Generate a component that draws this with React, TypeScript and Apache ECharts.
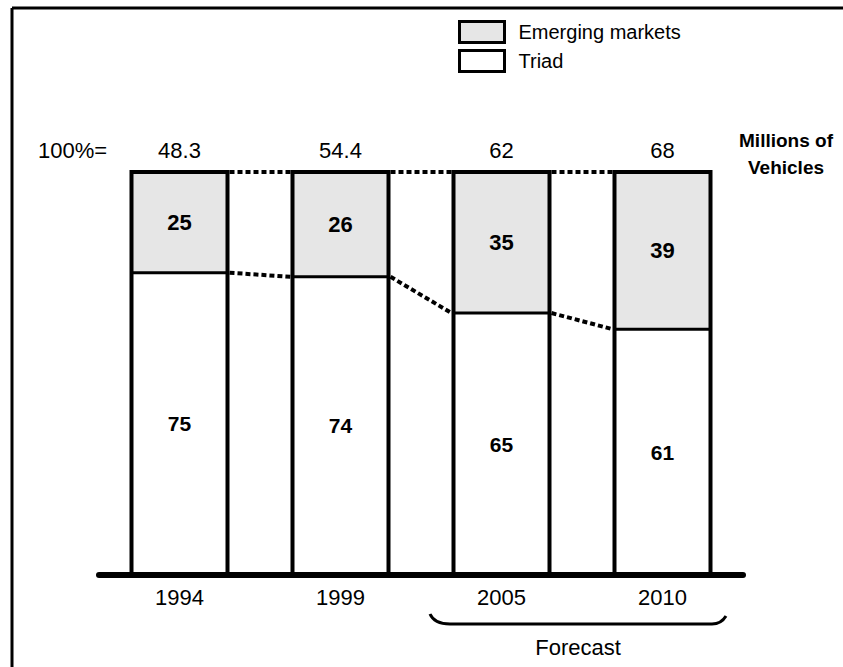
import React, { useEffect, useRef } from "react";
import * as echarts from "echarts";

const years = ["1994", "1999", "2005", "2010"];
const totals = ["48.3", "54.4", "62", "68"];
const triad = [75, 74, 65, 61];
const emerging = [25, 26, 35, 39];

const FONT = "'Liberation Sans', Arial, sans-serif";
const BAR_W = 96;

echarts.graphic.registerShape(
  "brace",
  echarts.graphic.extendPath(
    "M0 0 C3 7 9 10 20 10 L282 10 C289 10 293 7 296 2",
    {}
  )
);

export default function App() {
  const ref = useRef<HTMLDivElement>(null);
  useEffect(() => {
    if (!ref.current) return;
    const chart = echarts.init(ref.current, null, { renderer: "svg" });
    const links = triad.slice(0, -1).map((v, i) => [i, v, triad[i + 1]]);
    const outlines = triad.map((v, i) => [i, v]);
    const dash = { stroke: "#000", lineWidth: 4, lineDash: [5, 3], fill: null };
    chart.setOption({
      animation: false,
      backgroundColor: "#fff",
      textStyle: { fontFamily: FONT },
      legend: {
        orient: "vertical",
        left: 458,
        top: 20,
        padding: 0,
        itemWidth: 45,
        itemHeight: 21,
        itemGap: 5,
        icon: "rect",
        data: ["Emerging markets", "Triad"],
        itemStyle: { borderColor: "#000", borderWidth: 3 },
        textStyle: { fontSize: 20, color: "#000", fontFamily: FONT, padding: [0, 0, 0, 9] },
      },
      grid: { left: 99, right: 100, top: 172, bottom: 92 },
      xAxis: [
        {
          type: "category",
          data: years,
          position: "bottom",
          axisLine: { show: true, lineStyle: { color: "#000", width: 6 } },
          axisTick: { show: false },
          axisLabel: { color: "#000", fontSize: 22, margin: 11, fontFamily: FONT },
          z: 10,
        },
        {
          type: "category",
          data: totals,
          position: "top",
          axisLine: { show: false },
          axisTick: { show: false },
          axisLabel: { color: "#000", fontSize: 22, margin: 11, fontFamily: FONT },
        },
      ],
      yAxis: {
        type: "value",
        min: 0,
        max: 100,
        show: false,
        splitLine: { show: false },
      },
      series: [
        {
          name: "Triad",
          type: "bar",
          stack: "total",
          barWidth: BAR_W,
          data: triad,
          itemStyle: { color: "#ffffff", borderWidth: 0 },
          label: {
            show: true,
            position: "inside",
            color: "#000",
            fontSize: 21,
            fontWeight: "bold",
            fontFamily: FONT,
          },
        },
        {
          name: "Emerging markets",
          type: "bar",
          stack: "total",
          barWidth: BAR_W,
          data: emerging,
          itemStyle: { color: "#e6e6e6", borderWidth: 0 },
          label: {
            show: true,
            position: "inside",
            color: "#000",
            fontSize: 22,
            fontWeight: "bold",
            fontFamily: FONT,
          },
        },
        {
          type: "custom",
          name: "outlines",
          data: outlines,
          silent: true,
          z: 4,
          renderItem: (params: any, api: any) => {
            const i = params.dataIndex;
            const v = api.value(1);
            const b = api.coord([i, 0]);
            const t = api.coord([i, 100]);
            const s = api.coord([i, v]);
            const h = BAR_W / 2;
            return {
              type: "group",
              children: [
                {
                  type: "rect",
                  shape: { x: b[0] - h, y: t[1], width: BAR_W, height: b[1] - t[1] },
                  style: { stroke: "#000", lineWidth: 4, fill: null },
                },
                {
                  type: "line",
                  shape: { x1: s[0] - h, y1: s[1], x2: s[0] + h, y2: s[1] },
                  style: { stroke: "#000", lineWidth: 3 },
                },
              ],
            };
          },
        },
        {
          type: "custom",
          name: "links",
          data: links,
          silent: true,
          z: 5,
          renderItem: (params: any, api: any) => {
            const i = params.dataIndex;
            const a = api.value(1);
            const b = api.value(2);
            const p0 = api.coord([i, a]);
            const p1 = api.coord([i + 1, b]);
            const t0 = api.coord([i, 100]);
            const t1 = api.coord([i + 1, 100]);
            const h = BAR_W / 2 + 2;
            return {
              type: "group",
              children: [
                { type: "line", shape: { x1: p0[0] + h, y1: p0[1], x2: p1[0] - h, y2: p1[1] }, style: dash },
                { type: "line", shape: { x1: t0[0] + h, y1: t0[1], x2: t1[0] - h, y2: t1[1] }, style: dash },
              ],
            };
          },
        },
      ],
      graphic: [
        { type: "line", shape: { x1: 12, y1: 8, x2: 843, y2: 8 }, style: { stroke: "#000", lineWidth: 3 } },
        { type: "line", shape: { x1: 12, y1: 8, x2: 12, y2: 667 }, style: { stroke: "#000", lineWidth: 3 } },
        {
          type: "text",
          left: 38,
          top: 139,
          style: { text: "100%=", fontSize: 22, fill: "#000", fontFamily: FONT },
        },
        {
          type: "text",
          x: 786,
          y: 127,
          style: {
            text: "Millions of\nVehicles",
            fontSize: 19,
            fontWeight: "bold",
            fill: "#000",
            align: "center",
            lineHeight: 27,
            fontFamily: FONT,
          },
        },
        {
          type: "brace",
          x: 430,
          y: 614,
          style: { stroke: "#000", lineWidth: 3, fill: null },
        },
        {
          type: "text",
          x: 578,
          y: 647,
          style: {
            text: "Forecast",
            fontSize: 22,
            fill: "#000",
            align: "center",
            verticalAlign: "middle",
            fontFamily: FONT,
          },
        },
      ],
    });
    return () => chart.dispose();
  }, []);
  return (
    <div
      ref={ref}
      style={{ position: "fixed", left: 0, top: 0, width: 843, height: 667 }}
    />
  );
}
